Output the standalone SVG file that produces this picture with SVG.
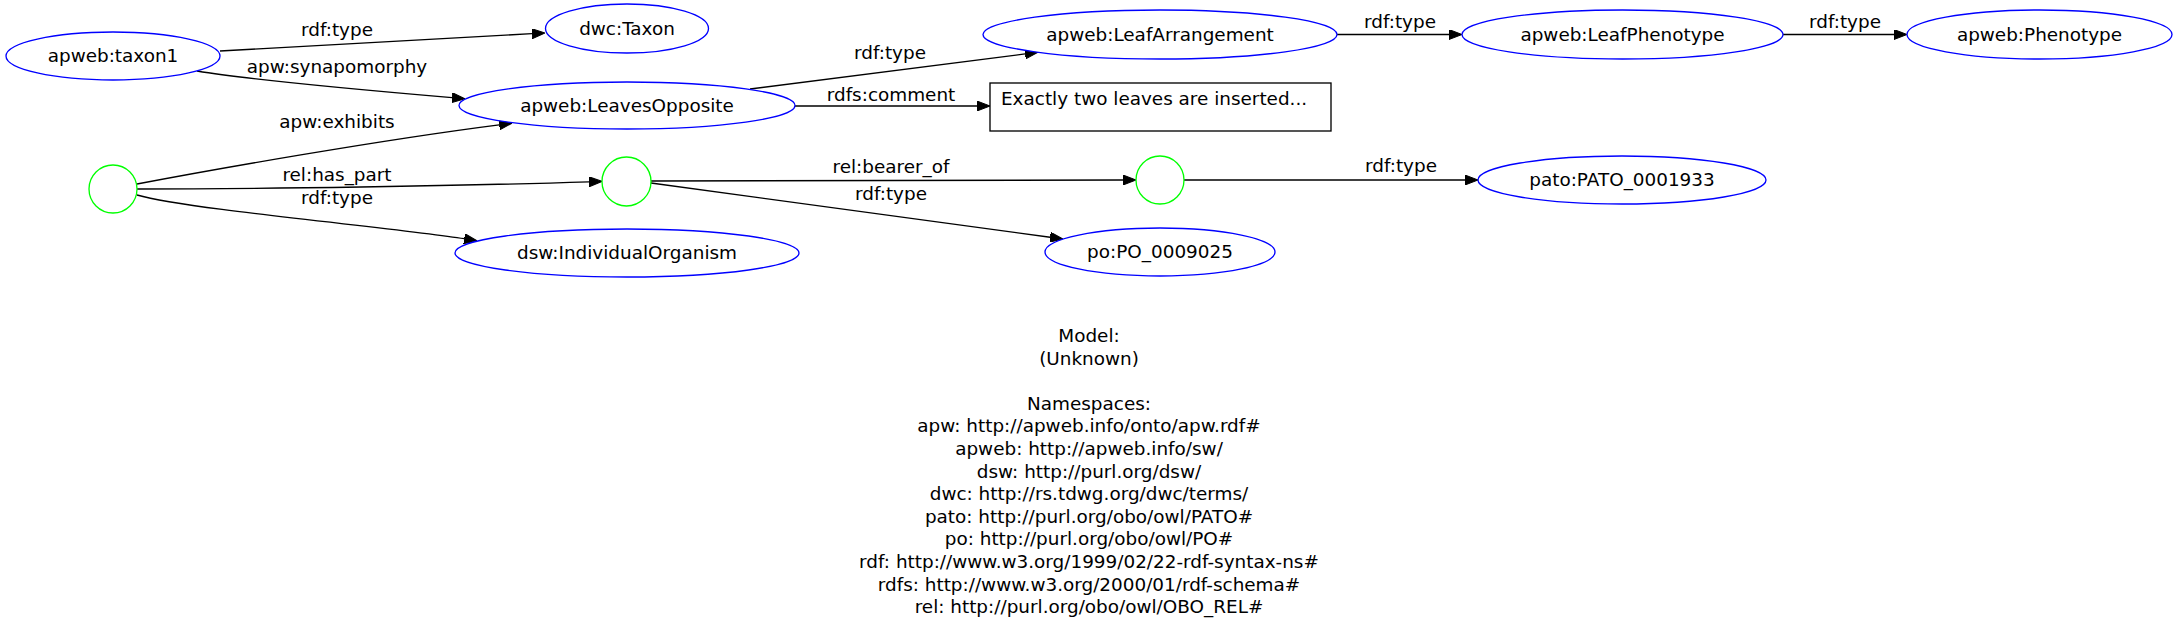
<svg xmlns="http://www.w3.org/2000/svg" width="2179" height="629" viewBox="0 0 2179 629">
<style>
text{font-family:"DejaVu Sans","Liberation Sans",sans-serif;font-size:18.4px;fill:#000}
.n{text-anchor:middle}
.uri{fill:#fff;stroke:#0000ff;stroke-width:1.33}
.bn{fill:#fff;stroke:#00ff00;stroke-width:1.33}
.lit{fill:#fff;stroke:#000;stroke-width:1.33}
.e{fill:none;stroke:#000;stroke-width:1.33;marker-end:url(#ah)}
.el{text-anchor:middle}
</style>
<defs>
<marker id="ah" viewBox="0 0 13 10" refX="0" refY="5" markerWidth="13" markerHeight="10" markerUnits="userSpaceOnUse" orient="auto">
<path d="M0,0 L13,5 L0,10 z" fill="#000" stroke="#000" stroke-width="1"/>
</marker>
</defs>
<rect width="2179" height="629" fill="#fff"/>
<g id="connectors">
<path class="e" d="M220,51 L532,33.7"/>
<path class="e" d="M197,71 C250,80 350,89 452,97.7"/>
<path class="e" d="M137,184 C210,170 380,140 499.2,124.8"/>
<path class="e" d="M137,189 C260,189 460,186 589,181.8"/>
<path class="e" d="M137,195 C190,210 400,228 464.3,238.7"/>
<path class="e" d="M750,89 L1025.1,53.9"/>
<path class="e" d="M795,106 L977,106"/>
<path class="e" d="M651,181 L1123,180"/>
<path class="e" d="M651,183 L1050.1,237.25"/>
<path class="e" d="M1337,34.5 L1449,34.5"/>
<path class="e" d="M1783,34.5 L1894,34.5"/>
<path class="e" d="M1184,180 L1465,180"/>
<text class="el" x="337" y="36">rdf:type</text>
<text class="el" x="337" y="73">apw:synapomorphy</text>
<text class="el" x="337" y="128">apw:exhibits</text>
<text class="el" x="337" y="181">rel:has_part</text>
<text class="el" x="337" y="204">rdf:type</text>
<text class="el" x="890" y="59">rdf:type</text>
<text class="el" x="891" y="101">rdfs:comment</text>
<text class="el" x="891" y="173">rel:bearer_of</text>
<text class="el" x="891" y="200">rdf:type</text>
<text class="el" x="1400" y="28">rdf:type</text>
<text class="el" x="1845" y="28">rdf:type</text>
<text class="el" x="1401" y="172">rdf:type</text>
</g>
<g id="taxon1"><ellipse class="uri" cx="113" cy="56" rx="107" ry="24"/><text class="n" x="113" y="62">apweb:taxon1</text></g>
<g id="dwcTaxon"><ellipse class="uri" cx="627" cy="28.5" rx="81.5" ry="24.5"/><text class="n" x="627" y="35">dwc:Taxon</text></g>
<g id="leavesOpposite"><ellipse class="uri" cx="627" cy="105.5" rx="168" ry="23.5"/><text class="n" x="627" y="111.5">apweb:LeavesOpposite</text></g>
<g id="leafArrangement"><ellipse class="uri" cx="1160" cy="34.5" rx="177" ry="24.5"/><text class="n" x="1160" y="40.5">apweb:LeafArrangement</text></g>
<g id="leafPhenotype"><ellipse class="uri" cx="1622.5" cy="34.5" rx="160.5" ry="24.5"/><text class="n" x="1622.5" y="40.5">apweb:LeafPhenotype</text></g>
<g id="phenotype"><ellipse class="uri" cx="2039.5" cy="34.5" rx="132.5" ry="24.5"/><text class="n" x="2039.5" y="40.5">apweb:Phenotype</text></g>
<g id="comment"><rect class="lit" x="990" y="83" width="341" height="48"/><text x="1001" y="105">Exactly two leaves are inserted...</text></g>
<g id="blank1"><ellipse class="bn" cx="113" cy="189" rx="24" ry="24"/></g>
<g id="blank2"><ellipse class="bn" cx="626.5" cy="181.5" rx="24.5" ry="24.5"/></g>
<g id="blank3"><ellipse class="bn" cx="1160" cy="180" rx="24" ry="24"/></g>
<g id="pato"><ellipse class="uri" cx="1622" cy="180" rx="144" ry="24"/><text class="n" x="1622" y="186">pato:PATO_0001933</text></g>
<g id="individualOrganism"><ellipse class="uri" cx="627" cy="253" rx="172" ry="24"/><text class="n" x="627" y="259">dsw:IndividualOrganism</text></g>
<g id="po"><ellipse class="uri" cx="1160" cy="252" rx="115" ry="24"/><text class="n" x="1160" y="258">po:PO_0009025</text></g>
<g id="legend">
<text class="n" x="1089" y="342">Model:</text>
<text class="n" x="1089" y="364.6">(Unknown)</text>
<text class="n" x="1089" y="409.8">Namespaces:</text>
<text class="n" x="1089" y="432.4">apw: http://apweb.info/onto/apw.rdf#</text>
<text class="n" x="1089" y="455">apweb: http://apweb.info/sw/</text>
<text class="n" x="1089" y="477.6">dsw: http://purl.org/dsw/</text>
<text class="n" x="1089" y="500.2">dwc: http://rs.tdwg.org/dwc/terms/</text>
<text class="n" x="1089" y="522.8">pato: http://purl.org/obo/owl/PATO#</text>
<text class="n" x="1089" y="545.4">po: http://purl.org/obo/owl/PO#</text>
<text class="n" x="1089" y="568">rdf: http://www.w3.org/1999/02/22-rdf-syntax-ns#</text>
<text class="n" x="1089" y="590.6">rdfs: http://www.w3.org/2000/01/rdf-schema#</text>
<text class="n" x="1089" y="613.2">rel: http://purl.org/obo/owl/OBO_REL#</text>
</g>
</svg>
